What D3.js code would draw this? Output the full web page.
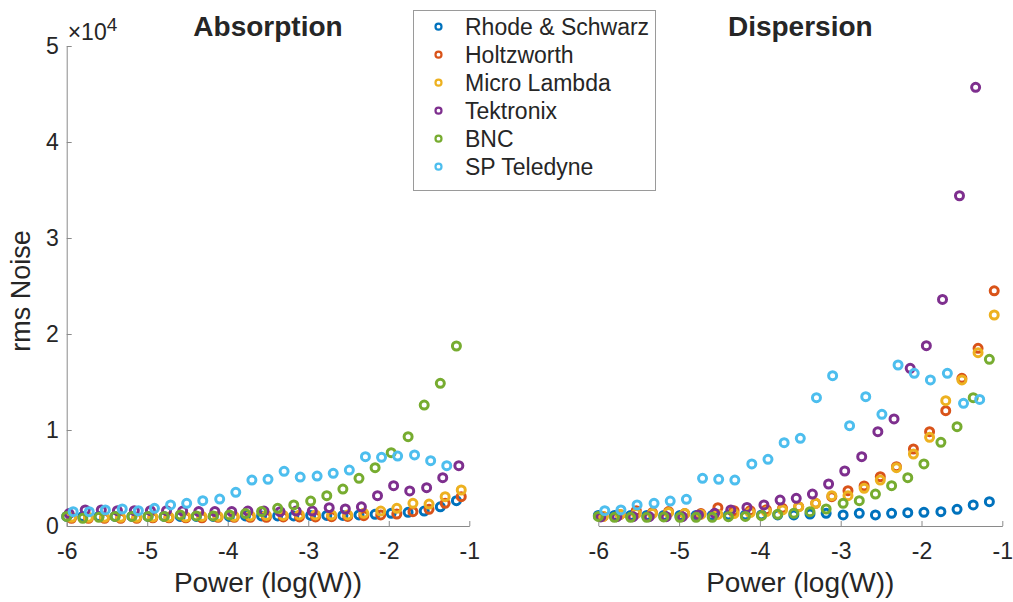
<!DOCTYPE html>
<html><head><meta charset="utf-8">
<script src="https://cdn.jsdelivr.net/npm/d3@7"></script>
<style>body{margin:0;background:#fff}svg{display:block}text{font-family:"Liberation Sans",Arial,sans-serif;fill:#262626}</style>
</head><body><svg id="c" width="1013" height="602"></svg>
<script>
// ---------- data ----------
const seriesNames = ["Rhode & Schwarz","Holtzworth","Micro Lambda","Tektronix","BNC","SP Teledyne"];
const seriesColors = ["#0072BD","#D95319","#EDB120","#7E2F8E","#77AC30","#4DBEEE"];
const xTicks = [-6,-5,-4,-3,-2,-1];
const yTicks = [0,10000,20000,30000,40000,50000];

// x values (log10 W) per instrument
const xRS  = [-6.00,-5.80,-5.60,-5.40,-5.19,-4.99,-4.79,-4.59,-4.39,-4.18,-3.98,-3.78,-3.58,-3.38,-3.18,-2.97,-2.77,-2.57,-2.37,-2.17,-1.97,-1.76,-1.56,-1.36,-1.16];
const xHol = [-5.94,-5.73,-5.53,-5.33,-5.13,-4.93,-4.73,-4.52,-4.32,-4.12,-3.92,-3.72,-3.52,-3.31,-3.11,-2.91,-2.71,-2.51,-2.31,-2.10,-1.90,-1.70,-1.50,-1.30,-1.10];
const xML  = [-5.94,-5.73,-5.53,-5.33,-5.13,-4.93,-4.73,-4.52,-4.32,-4.12,-3.92,-3.72,-3.52,-3.31,-3.11,-2.91,-2.71,-2.51,-2.31,-2.10,-1.90,-1.70,-1.50,-1.30,-1.10];
const xTek = [-5.97,-5.77,-5.57,-5.37,-5.16,-4.96,-4.76,-4.56,-4.36,-4.16,-3.95,-3.75,-3.55,-3.35,-3.15,-2.95,-2.74,-2.54,-2.34,-2.14,-1.94,-1.74,-1.53,-1.33,-1.13];
const xBNC = [-6.00,-5.80,-5.60,-5.40,-5.19,-4.99,-4.79,-4.59,-4.39,-4.18,-3.98,-3.78,-3.58,-3.38,-3.18,-2.97,-2.77,-2.57,-2.37,-2.17,-1.97,-1.76,-1.56,-1.36,-1.16];
const xSP  = [-5.92,-5.72,-5.52,-5.31,-5.11,-4.91,-4.71,-4.51,-4.31,-4.10,-3.90,-3.70,-3.50,-3.30,-3.10,-2.89,-2.69,-2.49,-2.29,-2.09,-1.89,-1.68,-1.48,-1.28];

// Absorption rms noise
const absRS  = [1000,1000,1000,1000,1000,1000,1000,1000,1000,1000,1000,1050,1050,1050,1050,1100,1100,1100,1150,1220,1320,1430,1560,2000,2640];
const absHol = [800,800,800,800,800,850,850,850,850,900,900,900,900,950,950,950,970,1000,1080,1150,1250,1490,1740,2360,3050];
const absML  = [900,900,900,900,900,950,950,950,1000,1000,1000,1050,1100,1100,1150,1150,1150,1150,1320,1560,1840,2360,2290,3050,3750];
const absTek = [1300,1670,1670,1600,1600,1600,1600,1550,1500,1500,1500,1550,1560,1490,1560,1560,1910,1770,2000,3160,4200,3650,3990,5030,6280];
const absBNC = [1000,800,900,1000,1000,1000,1000,1150,1050,1050,1150,1300,1500,1840,2190,2600,3160,3850,4970,6080,7640,9300,12600,14860,18750];
const absSP  = [1490,1490,1670,1770,1600,1840,2190,2360,2640,2810,3510,4790,4860,5700,5100,5200,5490,5830,7220,7150,7290,7400,6800,6280];

// Dispersion rms noise (last Tektronix point lies above the axis limit)
const dispRS  = [1100,1100,1100,1100,1100,1100,1100,1100,1150,1150,1150,1150,1150,1250,1320,1150,1320,1150,1320,1390,1420,1490,1740,2190,2530];
const dispHol = [1000,1200,1600,1400,1500,1300,1300,1900,1600,1600,1700,1840,2010,2360,3050,3680,4170,5140,6180,8020,9830,12010,15380,18510,24500];
const dispML  = [1000,1200,1300,1300,1400,1300,1200,1200,1300,1400,1500,1670,2000,2360,3160,3160,3920,4790,6070,7500,9240,13050,15210,18050,21980];
const dispTek = [950,970,970,970,970,970,1150,1320,1670,1940,2190,2700,2880,3330,4375,5730,7220,9830,11150,16420,18780,23600,34400,45700,null];
const dispBNC = [1000,900,900,900,950,900,900,900,970,1000,1080,1220,1320,1490,1770,2360,2640,3330,4200,5030,6460,8720,10350,13370,17360];
const dispSP  = [1600,1670,2190,2360,2600,2780,4970,4860,4790,6460,6950,8680,9130,13370,15660,10450,13470,11630,16770,15900,15210,15900,12780,13190];

const xSets = [xRS,xHol,xML,xTek,xBNC,xSP];
const absSets = [absRS,absHol,absML,absTek,absBNC,absSP];
const dispSets = [dispRS,dispHol,dispML,dispTek,dispBNC,dispSP];

// ---------- drawing ----------
const svg = d3.select("#c");
const plotTop = 46, plotBottom = 526;
const y = d3.scaleLinear().domain([0,50000]).range([plotBottom, plotTop]);
const TICK_FS = 23, LABEL_FS = 28, TITLE_FS = 28;
const axisCol = "#8a8a8a";

function panel(x0, x1, title, ySets, showY, id){
  const x = d3.scaleLinear().domain([-6,-1]).range([x0,x1]);
  const g = svg.append("g");
  svg.append("clipPath").attr("id",id).append("rect")
     .attr("x",x0-6).attr("y",plotTop-6).attr("width",x1-x0+12).attr("height",plotBottom-plotTop+12);

  const xa = g.append("g").attr("transform",`translate(0,${plotBottom})`)
    .call(d3.axisBottom(x).tickValues(xTicks).tickSizeInner(-5).tickSizeOuter(0).tickPadding(14).tickFormat(d=>String(d)));
  xa.select(".domain").attr("stroke",axisCol);
  xa.selectAll(".tick line").attr("stroke",axisCol);
  xa.selectAll(".tick text").attr("font-size",TICK_FS).attr("fill","#262626")
    .attr("font-family","Liberation Sans, Arial, sans-serif").attr("y",17).attr("dy","0.71em");

  if(showY){
    const ya = g.append("g").attr("transform",`translate(${x0},0)`)
      .call(d3.axisLeft(y).tickValues(yTicks).tickSizeInner(-5).tickSizeOuter(0).tickPadding(8).tickFormat(d=>String(d/10000)));
    ya.select(".domain").attr("stroke",axisCol);
    ya.selectAll(".tick line").attr("stroke",axisCol);
    ya.selectAll(".tick text").attr("font-size",TICK_FS).attr("fill","#262626")
      .attr("font-family","Liberation Sans, Arial, sans-serif");
    const ex = g.append("text").attr("x",x0+1).attr("y",40).attr("font-size",TICK_FS);
    ex.append("tspan").text("\u00d710");
    ex.append("tspan").attr("dy",-9).attr("font-size",19).text("4");
    g.append("text").attr("transform",`translate(${x0-37},${(plotTop+plotBottom)/2 + 5}) rotate(-90)`)
      .attr("text-anchor","middle").attr("font-size",LABEL_FS-1).text("rms Noise");
  }
  g.append("text").attr("x",(x0+x1)/2).attr("y",36).attr("text-anchor","middle")
    .attr("font-size",TITLE_FS).attr("font-weight","bold").text(title);
  g.append("text").attr("x",(x0+x1)/2).attr("y",592).attr("text-anchor","middle")
    .attr("font-size",LABEL_FS).text("Power (log(W))");

  const pts = g.append("g").attr("clip-path",`url(#${id})`);
  ySets.forEach((vals,s)=>{
    const data = vals.map((v,i)=>({x:xSets[s][i],v})).filter(d=>d.v!=null);
    pts.append("g").selectAll("circle").data(data).join("circle")
      .attr("cx",d=>x(d.x)).attr("cy",d=>y(d.v)).attr("r",4)
      .attr("fill","none").attr("stroke",seriesColors[s]).attr("stroke-width",3);
  });
}
panel(66.7, 469.3, "Absorption", absSets, true, "clipA");
panel(598.3, 1002.3, "Dispersion", dispSets, false, "clipD");

// legend
const lg = svg.append("g");
lg.append("rect").attr("x",413.5).attr("y",10.5).attr("width",242).attr("height",180)
  .attr("fill","#fff").attr("stroke","#9a9a9a");
seriesNames.forEach((n,i)=>{
  const yy = 26.7 + i*28;
  lg.append("circle").attr("cx",438.5).attr("cy",yy).attr("r",3).attr("fill","none")
    .attr("stroke",seriesColors[i]).attr("stroke-width",2.2);
  lg.append("text").attr("x",465).attr("y",yy).attr("dy","0.35em").attr("font-size",23).text(n);
});
</script></body></html>
